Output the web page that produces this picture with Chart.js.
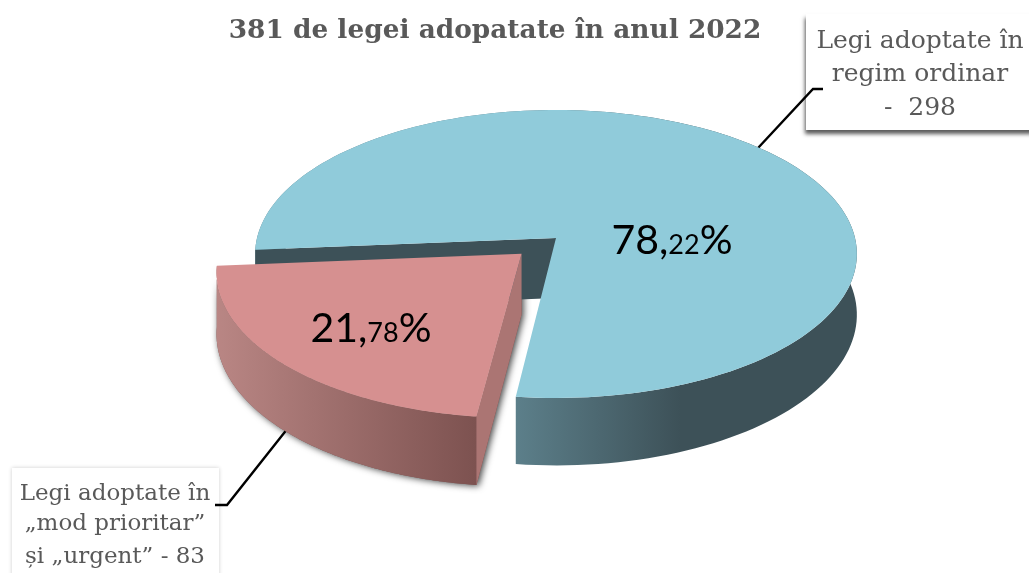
<!DOCTYPE html>
<html>
<head>
<meta charset="utf-8">
<style>
  body { margin: 0; background: #fff; }
  canvas { display: block; }
</style>
<script src="https://cdn.jsdelivr.net/npm/chart.js@4"></script>
</head>
<body>
<canvas id="lawsChart" width="1029" height="573"></canvas>
<script>
// Chart data
const chartTitle = "381 de legei adopatate în anul 2022";
const categories = ["Legi adoptate în regim ordinar", "Legi adoptate în „mod prioritar” și „urgent”"];
const lawCounts = [298, 83];
const ordinaryCallout = ["Legi adoptate în", "regim ordinar", "-  298"];
const urgentCallout = ["Legi adoptate în", "„mod prioritar”", "și „urgent” - 83"];

const TEXT_GRAY = "#595959";
const SERIF = '"DejaVu Serif", serif';
const sliceStyles = [
    {top: "#90cbda", wall: "#3d5158", side: ["#5c7f8a", "#3d5158"], sideStops: [516, 680]},
    {top: "#d69090", wall: "#ab7573", side: ["#b98684", "#7d5250"], sideStops: [217, 476]},
];

// Tilted view of the pie: the arcs come from Chart.js, this only projects them
const X_SCALE = 299 / 190;
const Y_SCALE = 142.2 / 190;
const PERSPECTIVE = 0.111;
const DEPTH = 60;

function project(arc, u, v, z) {
    let w = 1 - PERSPECTIVE * v;
    return {
        x: arc.x + X_SCALE * arc.outerRadius * u / w,
        y: arc.y + (Y_SCALE * arc.outerRadius * v + z) / w
    };
}

// Corner and rim points of one slice, top face (z = 0) or bottom face (z = DEPTH)
function slicePoints(arc, z) {
    let mid = (arc.startAngle + arc.endAngle) / 2;
    let off = (arc.options.offset || 0) / arc.outerRadius;
    let u0 = Math.cos(mid) * off;
    let v0 = Math.sin(mid) * off;
    let rim = [];
    for(let i = 0; i <= 160; i++) {
        let a = arc.startAngle + (arc.endAngle - arc.startAngle) * i / 160;
        rim.push(project(arc, u0 + Math.cos(a), v0 + Math.sin(a), z));
    }
    return {apex: project(arc, u0, v0, z), rim: rim};
}

function fillPoly(ctx, points, fill) {
    ctx.beginPath();
    points.forEach((p, i) => i ? ctx.lineTo(p.x, p.y) : ctx.moveTo(p.x, p.y));
    ctx.closePath();
    ctx.fillStyle = fill;
    ctx.fill();
}

function drawSlice(ctx, arc, style) {
    let top = slicePoints(arc, 0);
    let bottom = slicePoints(arc, DEPTH);

    // Outer face
    let gradient = ctx.createLinearGradient(style.sideStops[0], 0, style.sideStops[1], 0);
    gradient.addColorStop(0, style.side[0]);
    gradient.addColorStop(1, style.side[1]);
    fillPoly(ctx, top.rim.concat(bottom.rim.slice().reverse()), gradient);

    // Cut face at the start of the slice; the one at its end is hidden from this view
    fillPoly(ctx, [top.apex, top.rim[0], bottom.rim[0], bottom.apex], style.wall);

    // Top face
    fillPoly(ctx, [top.apex].concat(top.rim), style.top);
}

function drawCallout(ctx, box, lines, centerX, baselines, fontSize, shadow) {
    ctx.save();
    ctx.shadowColor = shadow.color;
    ctx.shadowBlur = shadow.blur;
    ctx.shadowOffsetX = shadow.x;
    ctx.shadowOffsetY = shadow.y;
    ctx.fillStyle = "#fff";
    ctx.fillRect(box.x, box.y, box.w, box.h);
    ctx.restore();

    ctx.fillStyle = TEXT_GRAY;
    ctx.font = fontSize + "px " + SERIF;
    ctx.textAlign = "center";
    ctx.textBaseline = "alphabetic";
    lines.forEach((line, i) => ctx.fillText(line, centerX, baselines[i]));
}

function drawLeader(ctx, points) {
    ctx.beginPath();
    points.forEach((p, i) => i ? ctx.lineTo(p[0], p[1]) : ctx.moveTo(p[0], p[1]));
    ctx.strokeStyle = "#000";
    ctx.lineWidth = 2.4;
    ctx.stroke();
}

// "78,22%" with the decimals set smaller, as in the original
function drawPercent(ctx, count, centerX, baseline, bigSize, smallSize) {
    let total = lawCounts.reduce((a, b) => a + b, 0);
    let parts = (count / total * 100).toFixed(2).split(".");
    let runs = [[parts[0] + ",", bigSize], [parts[1], smallSize], ["%", bigSize]];
    let width = 0;
    runs.forEach(r => {
        ctx.font = r[1] + 'px Lato, sans-serif';
        width += ctx.measureText(r[0]).width;
    });
    let x = centerX - width / 2;
    ctx.fillStyle = "#000";
    ctx.textAlign = "left";
    ctx.textBaseline = "alphabetic";
    runs.forEach(r => {
        ctx.font = r[1] + 'px Lato, sans-serif';
        ctx.fillText(r[0], x, baseline);
        x += ctx.measureText(r[0]).width;
    });
}

const tiltedPie = {
    id: "tiltedPie",
    beforeDatasetDraw(chart, args) {
        let ctx = chart.ctx;
        let arcs = chart.getDatasetMeta(args.index).data;

        // Soft shadow of the pulled-out slice goes down first
        let red = arcs[1];
        let top = slicePoints(red, 0);
        let bottom = slicePoints(red, DEPTH);
        ctx.save();
        ctx.shadowColor = "rgba(0, 0, 0, 0.75)";
        ctx.shadowBlur = 7;
        ctx.shadowOffsetX = 2;
        ctx.shadowOffsetY = 1;
        fillPoly(ctx, [top.apex].concat(top.rim, bottom.rim.slice().reverse(), [bottom.apex]), "#7d5250");
        ctx.restore();

        drawCallout(ctx, {x: 806, y: 14, w: 240, h: 116}, ordinaryCallout, 920, [48, 81, 115], 25,
            {color: "rgba(0, 0, 0, 0.65)", blur: 4, x: -1, y: 4});
        drawCallout(ctx, {x: 12, y: 468, w: 207, h: 120}, urgentCallout, 115, [500, 530, 563], 23,
            {color: "rgba(0, 0, 0, 0.2)", blur: 4, x: 0, y: 0});

        drawLeader(ctx, [[758, 148], [813, 89], [823, 89]]);
        drawLeader(ctx, [[288, 428], [227, 505], [215, 505]]);

        arcs.forEach((arc, i) => drawSlice(ctx, arc, sliceStyles[i]));

        drawPercent(ctx, lawCounts[0], 672, 254, 41, 27);
        drawPercent(ctx, lawCounts[1], 371, 342, 41, 27);

        ctx.fillStyle = TEXT_GRAY;
        ctx.font = "bold 26.4px " + SERIF;
        ctx.textAlign = "center";
        ctx.fillText(chartTitle, 495, 38);

        return false; // the projected slices replace the flat ones
    }
};

new Chart(document.getElementById("lawsChart"), {
    type: "pie",
    data: {
        labels: categories,
        datasets: [{
            data: lawCounts,
            backgroundColor: sliceStyles.map(s => s.top),
            offset: [0, 30],
            radius: 190,
            borderWidth: 0
        }]
    },
    options: {
        responsive: false,
        animation: false,
        rotation: 265.3,
        layout: {padding: {left: 83, bottom: 97}},
        plugins: {
            legend: {display: false},
            tooltip: {enabled: false}
        }
    },
    plugins: [tiltedPie]
});
</script>
</body>
</html>
